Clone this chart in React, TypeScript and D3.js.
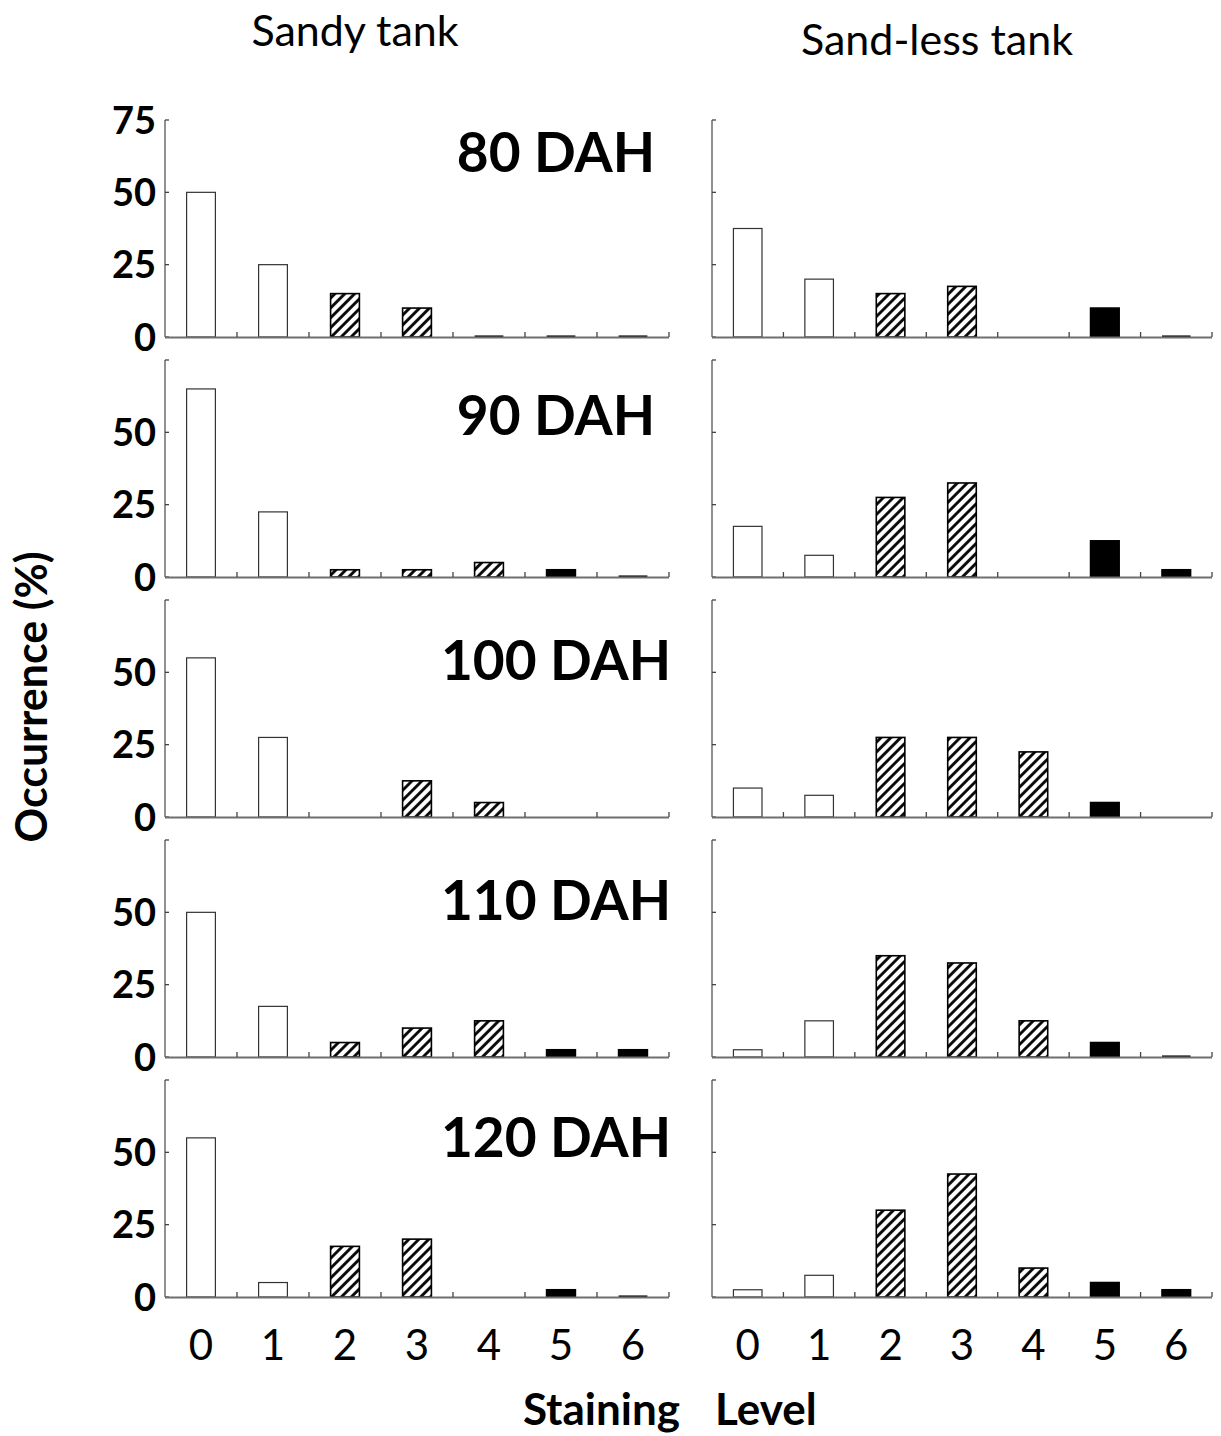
import React, { useEffect, useRef } from 'react';
import * as d3 from 'd3';

// staining levels on the x axis
const levels = ['0', '1', '2', '3', '4', '5', '6'];
// how each level is painted
const levelKinds = ['white', 'white', 'hatch', 'hatch', 'hatch', 'black', 'black'];
const ages = ['80 DAH', '90 DAH', '100 DAH', '110 DAH', '120 DAH'];
const tanks = ['Sandy tank', 'Sand-less tank'];
const yTicks = [0, 25, 50, 75];

// occurrence (%) per level, null = no bar drawn
const sandy80 = [50, 25, 15, 10, 0, 0, 0];
const sandy90 = [65, 22.5, 2.5, 2.5, 5, 2.5, 0];
const sandy100 = [55, 27.5, null, 12.5, 5, null, null];
const sandy110 = [50, 17.5, 5, 10, 12.5, 2.5, 2.5];
const sandy120 = [55, 5, 17.5, 20, null, 2.5, 0];

const sandless80 = [37.5, 20, 15, 17.5, null, 10, 0];
const sandless90 = [17.5, 7.5, 27.5, 32.5, null, 12.5, 2.5];
const sandless100 = [10, 7.5, 27.5, 27.5, 22.5, 5, null];
const sandless110 = [2.5, 12.5, 35, 32.5, 12.5, 5, 0];
const sandless120 = [2.5, 7.5, 30, 42.5, 10, 5, 2.5];

const FONT = "Lato, 'Noto Sans', sans-serif";

const App = () => {
  const svgRef = useRef<SVGSVGElement>(null);

  useEffect(() => {
    const W = 1221;
    const H = 1436;
    const svg = d3.select(svgRef.current).attr('width', W).attr('height', H);
    svg.selectAll('*').remove();

    const columns = [
      [sandy80, sandy90, sandy100, sandy110, sandy120],
      [sandless80, sandless90, sandless100, sandless110, sandless120],
    ];

    // panel layout
    const colLeft = [165, 712];
    const colWidth = [504, 500];
    const firstTop = 120;
    const rowStep = 240;
    const panelH = 217;
    const ageLabelDy = [52, 75, 80, 80, 77];

    const defs = svg.append('defs');
    const pat = defs
      .append('pattern')
      .attr('id', 'hatch')
      .attr('patternUnits', 'userSpaceOnUse')
      .attr('width', 7)
      .attr('height', 7)
      .attr('patternTransform', 'rotate(45)');
    pat.append('rect').attr('width', 7).attr('height', 7).attr('fill', '#fff');
    pat
      .append('line')
      .attr('x1', 3.5)
      .attr('y1', 0)
      .attr('x2', 3.5)
      .attr('y2', 7)
      .attr('stroke', '#000')
      .attr('stroke-width', 2.8);

    columns.forEach((rows, c) => {
      const x = d3
        .scaleBand()
        .domain(levels)
        .range([colLeft[c], colLeft[c] + colWidth[c]])
        .paddingInner(0.6)
        .paddingOuter(0.3);

      rows.forEach((vals, r) => {
        const top = firstTop + r * rowStep;
        const y = d3.scaleLinear().domain([0, 75]).range([top + panelH, top]);
        const g = svg.append('g');
        const base = y(0);

        // y axis: thin line with inward ticks
        g.append('line')
          .attr('x1', colLeft[c])
          .attr('x2', colLeft[c])
          .attr('y1', y(75))
          .attr('y2', base)
          .attr('stroke', '#555')
          .attr('stroke-width', 1.3);
        g.selectAll('.ytick')
          .data(yTicks)
          .enter()
          .append('line')
          .attr('x1', colLeft[c])
          .attr('x2', colLeft[c] + 4)
          .attr('y1', (d) => y(d))
          .attr('y2', (d) => y(d))
          .attr('stroke', '#444')
          .attr('stroke-width', 1.3);

        if (c === 0) {
          g.selectAll('.ylab')
            .data(r === 0 ? yTicks : yTicks.slice(0, 3))
            .enter()
            .append('text')
            .attr('x', colLeft[c] - 9)
            .attr('y', (d) => y(d))
            .attr('dy', '0.36em')
            .attr('text-anchor', 'end')
            .attr('font-family', FONT)
            .attr('font-weight', 'bold')
            .attr('font-size', 38)
            .text((d) => d);
        }

        // bars
        vals.forEach((v, i) => {
          if (v === null) return;
          const kind = levelKinds[i];
          const bx = x(levels[i]) as number;
          const bw = x.bandwidth();
          if (v === 0) {
            g.append('line')
              .attr('x1', bx)
              .attr('x2', bx + bw)
              .attr('y1', base - 0.5)
              .attr('y2', base - 0.5)
              .attr('stroke', '#111')
              .attr('stroke-width', 2.2);
            return;
          }
          g.append('rect')
            .attr('x', bx)
            .attr('y', y(v))
            .attr('width', bw)
            .attr('height', base - y(v))
            .attr('fill', kind === 'white' ? '#fff' : kind === 'black' ? '#000' : 'url(#hatch)')
            .attr('stroke', kind === 'white' ? '#333' : '#000')
            .attr('stroke-width', kind === 'white' ? 1.2 : 1.6);
        });

        // x axis line and tick marks at cell edges
        g.append('line')
          .attr('x1', colLeft[c])
          .attr('x2', colLeft[c] + colWidth[c])
          .attr('y1', base + 0.5)
          .attr('y2', base + 0.5)
          .attr('stroke', '#6f6f6f')
          .attr('stroke-width', 2.2);
        g.selectAll('.xtick')
          .data(levels)
          .enter()
          .append('line')
          .attr('x1', (d) => (x(d) as number) + x.bandwidth() / 2 + x.step() / 2)
          .attr('x2', (d) => (x(d) as number) + x.bandwidth() / 2 + x.step() / 2)
          .attr('y1', base - 5)
          .attr('y2', base)
          .attr('stroke', '#444')
          .attr('stroke-width', 1.3);

        if (c === 0) {
          g.append('text')
            .attr('x', 556)
            .attr('y', top + ageLabelDy[r])
            .attr('text-anchor', 'middle')
            .attr('font-family', FONT)
            .attr('font-weight', 'bold')
            .attr('font-size', 55)
            .text(ages[r]);
        }

        if (r === rows.length - 1) {
          g.selectAll('.xlab')
            .data(levels)
            .enter()
            .append('text')
            .attr('x', (d) => (x(d) as number) + x.bandwidth() / 2)
            .attr('y', base + 63)
            .attr('text-anchor', 'middle')
            .attr('font-family', FONT)
            .attr('font-size', 42)
            .text((d) => d);
        }
      });
    });

    // column titles
    svg.append('text')
      .attr('x', 355)
      .attr('y', 46)
      .attr('text-anchor', 'middle')
      .attr('font-family', FONT)
      .attr('font-size', 43)
      .text(tanks[0]);
    svg.append('text')
      .attr('x', 937)
      .attr('y', 55)
      .attr('text-anchor', 'middle')
      .attr('font-family', FONT)
      .attr('font-size', 43)
      .text(tanks[1]);

    // axis titles
    svg.append('text')
      .attr('transform', 'translate(47,697) rotate(-90)')
      .attr('text-anchor', 'middle')
      .attr('font-family', FONT)
      .attr('font-weight', 'bold')
      .attr('font-size', 43)
      .text('Occurrence (%)');
    svg.append('text')
      .attr('x', 680)
      .attr('y', 1425)
      .attr('text-anchor', 'end')
      .attr('font-family', FONT)
      .attr('font-weight', 'bold')
      .attr('font-size', 44)
      .text('Staining');
    svg.append('text')
      .attr('x', 715)
      .attr('y', 1425)
      .attr('font-family', FONT)
      .attr('font-weight', 'bold')
      .attr('font-size', 44)
      .text('Level');
  }, []);

  return (
    <svg
      ref={svgRef}
      style={{ position: 'absolute', left: 0, top: 0, background: '#fff' }}
    ></svg>
  );
};

export default App;
